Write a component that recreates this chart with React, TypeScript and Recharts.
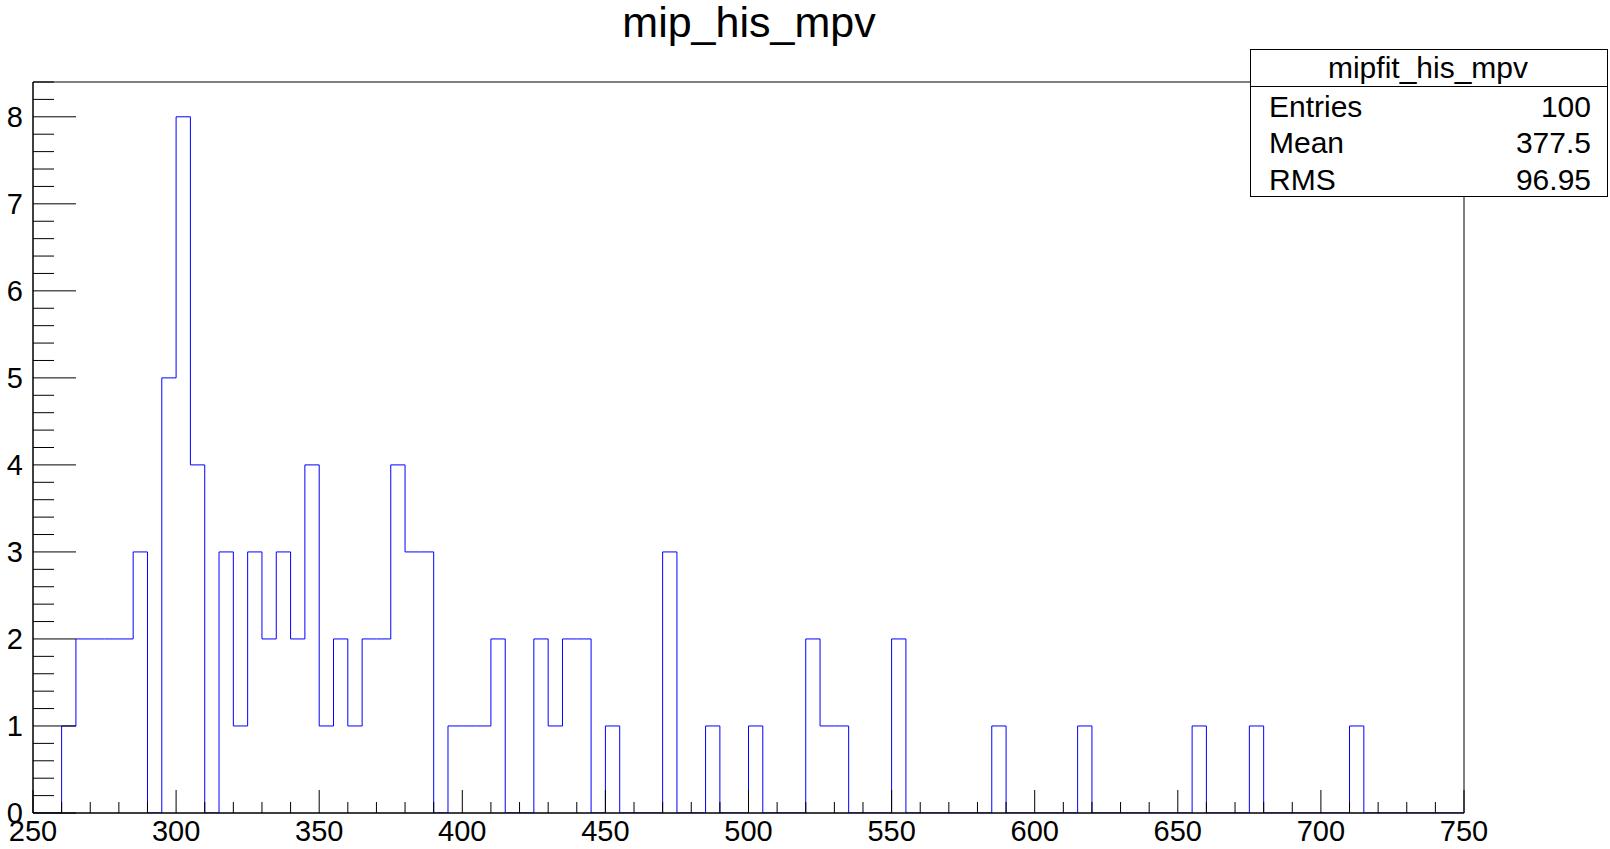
import { LineChart, Line, XAxis, YAxis, ReferenceArea } from 'recharts';

// histogram: 100 bins of width 5 from 250 to 750
const binLows = Array.from({ length: 100 }, (_, i) => 250 + i * 5);
const counts = [
  0, 0, 1, 2, 2, 2, 2, 3, 0, 5,
  8, 4, 0, 3, 1, 3, 2, 3, 2, 4,
  1, 2, 1, 2, 2, 4, 3, 3, 0, 1,
  1, 1, 2, 0, 0, 2, 1, 2, 2, 0,
  1, 0, 0, 0, 3, 0, 0, 1, 0, 0,
  1, 0, 0, 0, 2, 1, 1, 0, 0, 0,
  2, 0, 0, 0, 0, 0, 0, 1, 0, 0,
  0, 0, 0, 1, 0, 0, 0, 0, 0, 0,
  0, 1, 0, 0, 0, 1, 0, 0, 0, 0,
  0, 0, 1, 0, 0, 0, 0, 0, 0, 0,
];
const xTicks = Array.from({ length: 51 }, (_, i) => 250 + i * 10);
const yTicks = Array.from({ length: 43 }, (_, i) => Math.round(i * 2) / 10);

const statsTitle = 'mipfit_his_mpv';
const statsRows = [
  { name: 'Entries', value: '100' },
  { name: 'Mean', value: '377.5' },
  { name: 'RMS', value: '96.95' },
];

const data = [...binLows.map((x, i) => ({ x, y: counts[i] })), { x: 750, y: 0 }];

const FONT = '"Liberation Sans", Arial, Helvetica, sans-serif';

const XTick = (props: any) => {
  const { x, y, payload } = props;
  const v = payload.value;
  const major = v % 50 === 0;
  return (
    <g>
      <line x1={x} x2={x} y1={y} y2={y - (major ? 23 : 11)} stroke="#000" strokeWidth={1} />
      {major && (
        <text x={x} y={y + 18} textAnchor="middle" dominantBaseline="central" fontSize={29} fontFamily={FONT} fill="#000">
          {v}
        </text>
      )}
    </g>
  );
};

const YTick = (props: any) => {
  const { x, y, payload } = props;
  const v = payload.value;
  const major = Math.abs(v - Math.round(v)) < 1e-6;
  return (
    <g>
      <line x1={x} x2={x + (major ? 43 : 21)} y1={y} y2={y} stroke="#000" strokeWidth={1} />
      {major && (
        <text x={x - 10} y={y} textAnchor="end" dominantBaseline="central" fontSize={29} fontFamily={FONT} fill="#000">
          {Math.round(v)}
        </text>
      )}
    </g>
  );
};

export default function App() {
  return (
    <div style={{ position: 'relative', width: 1610, height: 849, background: '#fff' }}>
      <style>{`body{margin:0}`}</style>
      <LineChart width={1610} height={849} data={data} margin={{ top: 82, right: 146, bottom: 35, left: 32 }}>
        <Line
          type="stepAfter"
          dataKey="y"
          stroke="#0000ff"
          strokeWidth={1}
          dot={false}
          activeDot={false}
          isAnimationActive={false}
        />
        <ReferenceArea x1={250} x2={750} y1={0} y2={8.4} fill="none" stroke="#000" strokeWidth={1} ifOverflow="visible" />
        <XAxis
          dataKey="x"
          type="number"
          domain={[250, 750]}
          ticks={xTicks}
          interval={0}
          height={1}
          tickSize={0}
          tickMargin={0}
          tickLine={false}
          axisLine={{ stroke: '#000' }}
          tick={(p: any) => <XTick {...p} />}
          allowDataOverflow
        />
        <YAxis
          type="number"
          domain={[0, 8.4]}
          ticks={yTicks}
          interval={0}
          width={1}
          tickSize={0}
          tickMargin={0}
          tickLine={false}
          axisLine={{ stroke: '#000' }}
          tick={(p: any) => <YTick {...p} />}
          allowDataOverflow
        />
      </LineChart>
      <svg width={1610} height={849} style={{ position: 'absolute', left: 0, top: 0, pointerEvents: 'none' }}>
        <text x={749} y={37} textAnchor="middle" fontSize={43} fontFamily={FONT} fill="#000">
          mip_his_mpv
        </text>
        <rect x={1250.5} y={49.5} width={357} height={147} fill="#fff" stroke="#000" strokeWidth={1} />
        <line x1={1250.5} x2={1607.5} y1={86.5} y2={86.5} stroke="#000" strokeWidth={1} />
        <text x={1428} y={67} textAnchor="middle" dominantBaseline="central" fontSize={30} fontFamily={FONT} fill="#000">
          {statsTitle}
        </text>
        {statsRows.map((r, i) => (
          <g key={r.name}>
            <text x={1269} y={106 + i * 36.5} dominantBaseline="central" fontSize={30} fontFamily={FONT} fill="#000">
              {r.name}
            </text>
            <text x={1591} y={106 + i * 36.5} textAnchor="end" dominantBaseline="central" fontSize={30} fontFamily={FONT} fill="#000">
              {r.value}
            </text>
          </g>
        ))}
      </svg>
    </div>
  );
}
